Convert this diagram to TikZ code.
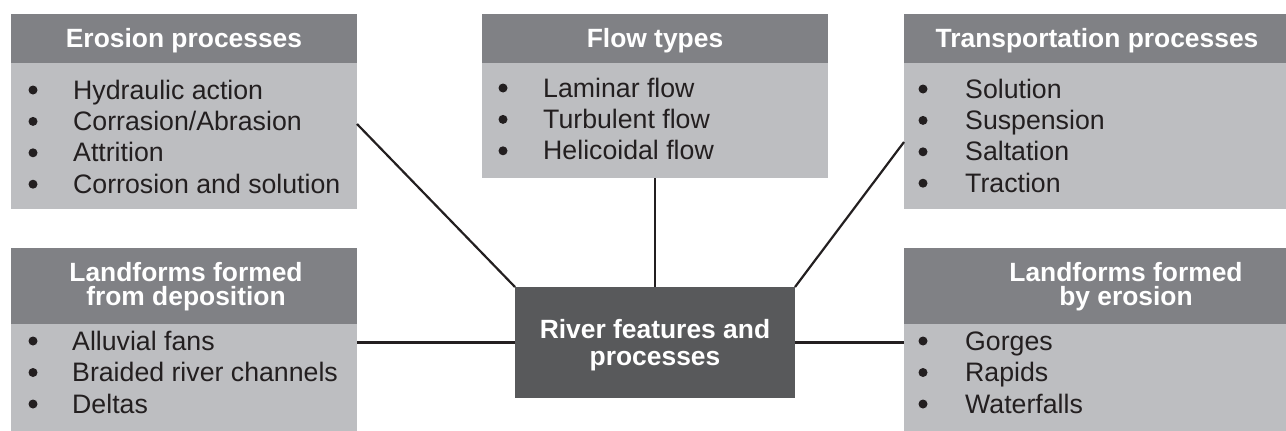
\documentclass[tikz,border=0pt]{standalone}
\usepackage{fontspec}
\setmainfont{Liberation Sans}
\usetikzlibrary{calc}
\definecolor{hdrgray}{HTML}{808185}
\definecolor{bodygray}{HTML}{BDBEC1}
\definecolor{centergray}{HTML}{58595B}
\definecolor{ink}{HTML}{231F20}
\tikzset{
  boxbase/.style={inner sep=0pt, outer sep=0pt, anchor=north west},
  hdr/.style={boxbase, fill=hdrgray},
  bdy/.style={boxbase, fill=bodygray},
  ctr/.style={boxbase, fill=centergray},
  hdrtext/.style={inner sep=0pt, anchor=base, text=white, font=\fontsize{26.4pt}{31pt}\selectfont\bfseries},
  bul/.style={circle, fill=ink, inner sep=0pt, minimum size=9pt},
  itemtext/.style={inner sep=0pt, anchor=base west, text=ink, font=\fontsize{26.7pt}{31pt}\selectfont},
  link/.style={draw=ink, line width=2.2pt},
}
\begin{document}
\begin{tikzpicture}[x=1pt,y=-1pt]
\useasboundingbox (0,0) rectangle (1286,431);
% boxes
\node[hdr, minimum width=346pt, minimum height=49pt] (eroH) at (11,14) {};
\node[bdy, minimum width=346pt, minimum height=146pt] (eroB) at (11,63) {};
\node[hdr, minimum width=346pt, minimum height=49pt] (floH) at (482,14) {};
\node[bdy, minimum width=346pt, minimum height=115pt] (floB) at (482,63) {};
\node[hdr, minimum width=382pt, minimum height=49pt] (traH) at (904,14) {};
\node[bdy, minimum width=382pt, minimum height=146pt] (traB) at (904,63) {};
\node[hdr, minimum width=346pt, minimum height=76pt] (depH) at (11,248) {};
\node[bdy, minimum width=346pt, minimum height=107pt] (depB) at (11,324) {};
\node[hdr, minimum width=382pt, minimum height=76pt] (ersH) at (904,248) {};
\node[bdy, minimum width=382pt, minimum height=107pt] (ersB) at (904,324) {};
\node[ctr, minimum width=280pt, minimum height=111pt] (ctr) at (515,287) {};
% headers
\node[hdrtext] (eroT) at (184,47.5) {Erosion processes};
\node[hdrtext] (floT) at (655,47.5) {Flow types};
\node[hdrtext] (traT) at (1097,47.5) {Transportation processes};
\node[hdrtext, text depth=0pt] (depT1) at (186,281) {Landforms formed};
\node[hdrtext, text height=14pt] (depT2) at (186,305) {from deposition};
\node[hdrtext, text depth=0pt] (ersT1) at (1126,281) {Landforms formed};
\node[hdrtext, text height=14pt] (ersT2) at (1126,305) {by erosion};
\node[hdrtext] (ctrT1) at (655,338) {River features and};
\node[hdrtext] (ctrT2) at (655,365) {processes};
% lists
\foreach \t [count=\i] in {Hydraulic action, Corrasion/Abrasion, Attrition, Corrosion and solution} {
  \node[bul] (erob\i) at (33,{90+31.4*(\i-1)}) {};
  \node[itemtext] (eroi\i) at (73,{99+31.4*(\i-1)}) {\t};
}
\foreach \t [count=\i] in {Laminar flow, Turbulent flow, Helicoidal flow} {
  \node[bul] (flob\i) at (503,{88+31.4*(\i-1)}) {};
  \node[itemtext] (floi\i) at (543,{97+31.4*(\i-1)}) {\t};
}
\foreach \t [count=\i] in {Solution, Suspension, Saltation, Traction} {
  \node[bul] (trab\i) at (923,{89+31.4*(\i-1)}) {};
  \node[itemtext] (trai\i) at (965,{98+31.4*(\i-1)}) {\t};
}
\foreach \t [count=\i] in {Alluvial fans, Braided river channels, Deltas} {
  \node[bul] (depb\i) at (33,{341+31.5*(\i-1)}) {};
  \node[itemtext] (depi\i) at (72,{350+31.5*(\i-1)}) {\t};
}
\foreach \t [count=\i] in {Gorges, Rapids, Waterfalls} {
  \node[bul] (ersb\i) at (923,{341+31.5*(\i-1)}) {};
  \node[itemtext] (ersi\i) at (965,{350+31.5*(\i-1)}) {\t};
}
% connectors
\draw[link] ($(eroB.north east)+(0,61)$) -- (ctr.north west);
\draw[link] (floB.south) -- (ctr.north);
\draw[link] (ctr.north east) -- ($(traB.north west)+(0,79)$);
\draw[link] (ctr.west) -- (ctr.west -| depB.east);
\draw[link] (ctr.east) -- (ctr.east -| ersB.west);
\end{tikzpicture}
\end{document}
